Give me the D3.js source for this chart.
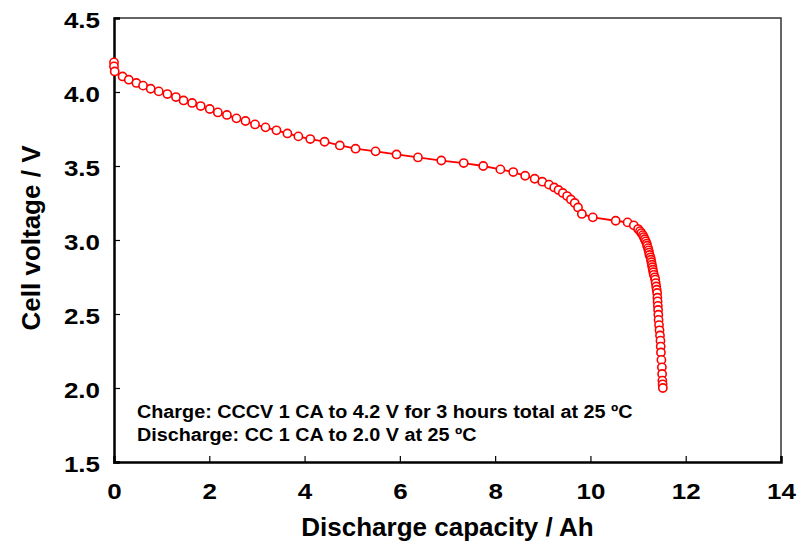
<!DOCTYPE html>
<html>
<head>
<meta charset="utf-8">
<script src="https://cdn.jsdelivr.net/npm/d3@7"></script>
<style>
  html, body { margin: 0; padding: 0; background: #fff; }
  svg { display: block; }
  text { font-family: "Liberation Sans", Arial, sans-serif; font-weight: bold; fill: #000; }
</style>
</head>
<body>
<svg id="chart" width="802" height="546"></svg>
<script>
// ---- data ----
const capacity = [0, 0, 0.015, 0.18, 0.31, 0.47, 0.61, 0.77, 0.94, 1.12, 1.30, 1.46, 1.64, 1.82, 2.01, 2.18,
  2.37, 2.57, 2.76, 2.96, 3.18, 3.41, 3.64, 3.87, 4.12, 4.42, 4.74, 5.07, 5.49, 5.93, 6.38, 6.87, 7.34,
  7.75, 8.11, 8.38, 8.63, 8.83, 8.99, 9.13, 9.24, 9.33, 9.42, 9.51, 9.59, 9.67, 9.74, 9.82, 10.05, 10.53,
  10.78, 10.91, 11.00, 11.04, 11.07, 11.10, 11.12, 11.14, 11.16, 11.18, 11.19, 11.21, 11.22, 11.23, 11.24,
  11.26, 11.27, 11.28, 11.29, 11.30, 11.31, 11.32, 11.33, 11.35, 11.36, 11.37, 11.38, 11.39, 11.40, 11.405,
  11.41, 11.415, 11.42, 11.425, 11.43, 11.44, 11.45, 11.46, 11.47, 11.475, 11.48, 11.49, 11.50, 11.505,
  11.51, 11.515, 11.52];
const voltage = [4.20, 4.173, 4.139, 4.105, 4.083, 4.061, 4.043, 4.022, 4.004, 3.986, 3.966, 3.943, 3.926, 3.905, 3.885, 3.862,
  3.845, 3.822, 3.804, 3.781, 3.761, 3.741, 3.720, 3.700, 3.682, 3.664, 3.639, 3.617, 3.599, 3.578, 3.558, 3.537, 3.520,
  3.500, 3.477, 3.459, 3.434, 3.414, 3.394, 3.374, 3.355, 3.338, 3.318, 3.297, 3.274, 3.250, 3.220, 3.176, 3.153, 3.130,
  3.119, 3.099, 3.074, 3.060, 3.047, 3.033, 3.020, 3.005, 2.991, 2.976, 2.961, 2.945, 2.930, 2.915, 2.899,
  2.883, 2.867, 2.850, 2.833, 2.816, 2.799, 2.782, 2.765, 2.748, 2.732, 2.709, 2.686, 2.664, 2.642, 2.61,
  2.585, 2.555, 2.527, 2.495, 2.46, 2.425, 2.39, 2.355, 2.32, 2.28, 2.24, 2.19, 2.14, 2.095,
  2.05, 2.025, 2.0];
const xTicks = [0, 2, 4, 6, 8, 10, 12, 14];
const yTicks = [1.5, 2.0, 2.5, 3.0, 3.5, 4.0, 4.5];
const xTitle = "Discharge capacity / Ah";
const yTitle = "Cell voltage / V";
const notes = ["Charge: CCCV 1 CA to 4.2 V for 3 hours total at 25 \u00BAC",
               "Discharge: CC 1 CA to 2.0 V at 25 \u00BAC"];

// ---- layout ----
const svg = d3.select("#chart");
const L = 114, R = 781, T = 18, B = 462;
const x = d3.scaleLinear().domain([0, 14]).range([L, R]);
const y = d3.scaleLinear().domain([1.5, 4.5]).range([B, T]);
const pts = capacity.map((c, i) => [c, voltage[i]]);

// widen text horizontally (reference glyphs look slightly stretched)
function stretch(sel, k) {
  sel.each(function () {
    const w = this.getComputedTextLength();
    d3.select(this).attr("textLength", w * k).attr("lengthAdjust", "spacingAndGlyphs");
  });
}

// frame (top/right)
svg.append("path")
  .attr("d", `M${L},${T}H${R}V${B}`)
  .attr("fill", "none").attr("stroke", "#333").attr("stroke-width", 1.5);

// axes
const xAxis = d3.axisBottom(x).tickValues(xTicks).tickSize(-6).tickPadding(21).tickFormat(d3.format("d"));
const yAxis = d3.axisLeft(y).tickValues(yTicks).tickSize(-6).tickPadding(14).tickFormat(d3.format(".1f"));
const gx = svg.append("g").attr("transform", `translate(0,${B})`).call(xAxis);
const gy = svg.append("g").attr("transform", `translate(${L},0)`).call(yAxis);
[gx, gy].forEach(g => {
  g.select(".domain").attr("stroke", "#000").attr("stroke-width", 2.5);
  g.selectAll(".tick line").attr("stroke", "#000").attr("stroke-width", 1.2);
  g.selectAll(".tick text").style("font-size", "22px").style("font-weight", "bold")
    .style("font-family", '"Liberation Sans", Arial, sans-serif').attr("fill", "#000");
  stretch(g.selectAll(".tick text"), 1.18);
});
gy.selectAll(".tick text").attr("dy", "0.45em");

// titles
const xt = svg.append("text").attr("x", (L + R) / 2).attr("y", 536).attr("text-anchor", "middle")
  .style("font-size", "25px").text(xTitle);
stretch(xt, 1.04);
const yt = svg.append("text").attr("transform", `translate(40,${(T + B) / 2 - 2}) rotate(-90)`).attr("text-anchor", "middle")
  .style("font-size", "25px").text(yTitle);
stretch(yt, 1.04);

// notes
notes.forEach((t, i) => {
  const n = svg.append("text").attr("x", 137).attr("y", 418 + i * 23).style("font-size", "17.5px").text(t);
  stretch(n, 1.13);
});

// series
svg.append("path").datum(pts)
  .attr("d", d3.line().x(d => x(d[0])).y(d => y(d[1])))
  .attr("fill", "none").attr("stroke", "#ff0000").attr("stroke-width", 1.8);
svg.append("g").selectAll("circle").data(pts).join("circle")
  .attr("cx", d => x(d[0])).attr("cy", d => y(d[1])).attr("r", 4.1)
  .attr("fill", "#fff").attr("stroke", "#ff0000").attr("stroke-width", 1.6);
</script>
</body>
</html>
